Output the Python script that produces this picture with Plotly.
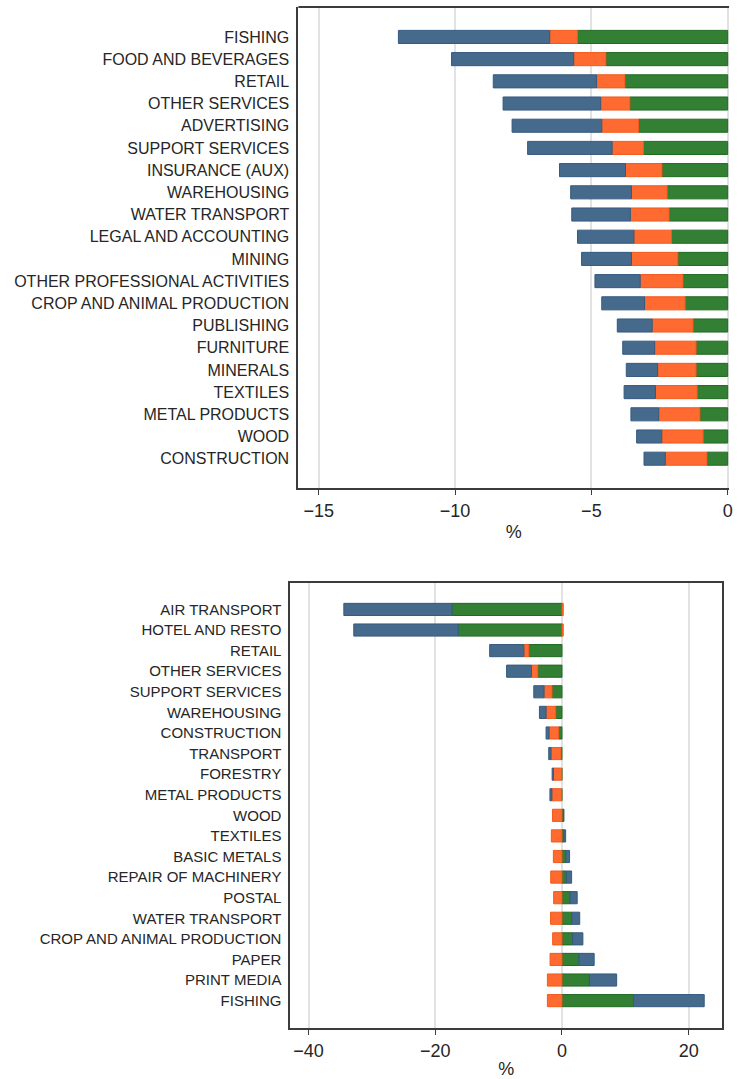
import plotly.graph_objects as go

# Upper panel: all components negative
top_cats = ["FISHING", "FOOD AND BEVERAGES", "RETAIL", "OTHER SERVICES", "ADVERTISING",
            "SUPPORT SERVICES", "INSURANCE (AUX)", "WAREHOUSING", "WATER TRANSPORT",
            "LEGAL AND ACCOUNTING", "MINING", "OTHER PROFESSIONAL ACTIVITIES",
            "CROP AND ANIMAL PRODUCTION", "PUBLISHING", "FURNITURE", "MINERALS",
            "TEXTILES", "METAL PRODUCTS", "WOOD", "CONSTRUCTION"]
top_green = [-5.51, -4.47, -3.77, -3.59, -3.27, -3.09, -2.41, -2.22, -2.15, -2.06,
             -1.83, -1.64, -1.56, -1.27, -1.16, -1.16, -1.12, -1.02, -0.90, -0.76]
top_orange = [-1.02, -1.18, -1.04, -1.07, -1.35, -1.15, -1.34, -1.31, -1.42, -1.38,
              -1.70, -1.57, -1.49, -1.50, -1.52, -1.41, -1.53, -1.51, -1.52, -1.53]
top_blue = [-5.55, -4.48, -3.79, -3.58, -3.29, -3.10, -2.42, -2.23, -2.15, -2.07,
            -1.83, -1.66, -1.57, -1.28, -1.17, -1.15, -1.15, -1.02, -0.92, -0.78]

# Lower panel: mixed signs
bot_cats = ["AIR TRANSPORT", "HOTEL AND RESTO", "RETAIL", "OTHER SERVICES",
            "SUPPORT SERVICES", "WAREHOUSING", "CONSTRUCTION", "TRANSPORT", "FORESTRY",
            "METAL PRODUCTS", "WOOD", "TEXTILES", "BASIC METALS", "REPAIR OF MACHINERY",
            "POSTAL", "WATER TRANSPORT", "CROP AND ANIMAL PRODUCTION", "PAPER",
            "PRINT MEDIA", "FISHING"]
bot_green = [-17.37, -16.38, -5.23, -3.82, -1.57, -0.99, -0.52, -0.16, -0.05, -0.05,
             0.25, 0.30, 0.60, 0.70, 1.30, 1.55, 1.68, 2.67, 4.34, 11.30]
bot_orange = [0.20, 0.20, -0.79, -1.00, -1.26, -1.52, -1.52, -1.57, -1.30, -1.55,
              -1.50, -1.68, -1.36, -1.78, -1.31, -1.80, -1.47, -1.88, -2.30, -2.30]
bot_blue = [-17.06, -16.48, -5.39, -3.92, -1.62, -1.05, -0.47, -0.36, -0.20, -0.30,
            0.05, 0.28, 0.60, 0.82, 1.10, 1.25, 1.62, 2.41, 4.29, 11.15]

top_ticks = [-15, -10, -5, 0]
bot_ticks = [-40, -20, 0, 20]

GREEN = "#337f33"
ORANGE = "#fe6a2f"
BLUE = "#466a8c"
GREEN_EDGE = "#1f6a22"
ORANGE_EDGE = "#f25a1c"
BLUE_EDGE = "#345a80"

W, H = 741, 1079
FONT = "Liberation Sans, Arial, sans-serif"
TEXT = "#262626"
AXIS = "#3c3c3c"
GRID = "#e2e2e2"

fig = go.Figure()

series = [(GREEN, GREEN_EDGE, top_green, bot_green),
          (ORANGE, ORANGE_EDGE, top_orange, bot_orange),
          (BLUE, BLUE_EDGE, top_blue, bot_blue)]
for color, edge, tvals, bvals in series:
    fig.add_trace(go.Bar(y=top_cats, x=tvals, orientation="h", xaxis="x", yaxis="y",
                         marker=dict(color=color, line=dict(color=edge, width=1)),
                         showlegend=False))
    fig.add_trace(go.Bar(y=bot_cats, x=bvals, orientation="h", xaxis="x2", yaxis="y2",
                         marker=dict(color=color, line=dict(color=edge, width=1)),
                         showlegend=False))

# panel geometry in pixels
t_left, t_right, t_top, t_bot = 300, 733, 7, 490.5
b_left, b_right, b_top, b_bot = 292, 726, 586, 1033


def px_x(p):
    return p / W


def px_y(p):
    return 1 - p / H


xcommon = dict(showgrid=True, gridcolor=GRID, gridwidth=1.5, zeroline=False,
               showline=True, linecolor=AXIS, linewidth=2,
               ticks="outside", ticklen=5, tickwidth=1.2, tickcolor=AXIS,
               tickfont=dict(family=FONT, size=18, color=TEXT))
ycommon = dict(type="category", showgrid=False, zeroline=False,
               showline=True, linecolor=AXIS, linewidth=2, ticks="",
               ticklabelstandoff=4)

fig.update_layout(
    width=W, height=H,
    margin=dict(l=0, r=0, t=0, b=0),
    paper_bgcolor="white", plot_bgcolor="white",
    barmode="relative", bargap=0.41,
    xaxis=dict(domain=[px_x(t_left), px_x(t_right)], anchor="y",
               range=[-15.75, 0.05], tickvals=top_ticks,
               title=dict(text="%", font=dict(family=FONT, size=18, color=TEXT), standoff=6),
               **xcommon),
    yaxis=dict(domain=[px_y(t_bot), px_y(t_top)], anchor="x",
               range=[20.33, -1.35], tickfont=dict(family=FONT, size=16, color=TEXT),
               **ycommon),
    xaxis2=dict(domain=[px_x(b_left), px_x(b_right)], anchor="y2", mirror=True,
                range=[-42.86, 25.27], tickvals=bot_ticks,
                title=dict(text="%", font=dict(family=FONT, size=18, color=TEXT), standoff=6),
                **xcommon),
    yaxis2=dict(domain=[px_y(b_bot), px_y(b_top)], anchor="x2", mirror=True,
                range=[20.34, -1.27], tickfont=dict(family=FONT, size=15, color=TEXT),
                **ycommon),
    shapes=[dict(type="line", xref="paper", yref="paper",
                 x0=px_x(t_left), x1=px_x(t_right), y0=px_y(t_top), y1=px_y(t_top),
                 line=dict(color=AXIS, width=2))],
)

fig.write_html("out.html")
